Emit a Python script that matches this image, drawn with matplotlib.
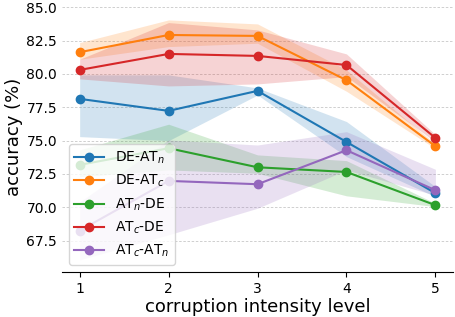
import matplotlib
matplotlib.use("Agg")
import matplotlib.pyplot as plt

levels = [1, 2, 3, 4, 5]

de_atn = [78.13, 77.23, 78.73, 74.90, 71.06]
de_atn_lo = [75.30, 75.00, 78.42, 73.80, 70.80]
de_atn_hi = [79.93, 79.93, 78.95, 76.43, 71.55]

de_atc = [81.63, 82.92, 82.85, 79.53, 74.58]
de_atc_lo = [81.10, 82.05, 82.30, 78.70, 74.40]
de_atc_hi = [82.35, 84.05, 83.75, 80.30, 74.75]

atn_de = [73.18, 74.43, 73.00, 72.65, 70.16]
atn_de_lo = [72.30, 72.80, 72.55, 70.86, 70.05]
atn_de_hi = [74.30, 76.23, 73.93, 73.50, 70.30]

atc_de = [80.30, 81.50, 81.35, 80.67, 75.20]
atc_de_lo = [79.63, 79.10, 79.25, 79.80, 74.90]
atc_de_hi = [81.10, 83.85, 83.30, 81.50, 75.45]

atc_atn = [68.25, 71.98, 71.73, 74.28, 71.28]
atc_atn_lo = [66.06, 67.94, 69.93, 72.80, 70.90]
atc_atn_hi = [70.40, 75.05, 74.67, 75.67, 72.85]

series = [
    ("DE-AT$_n$", de_atn, de_atn_lo, de_atn_hi, "tab:blue"),
    ("DE-AT$_c$", de_atc, de_atc_lo, de_atc_hi, "tab:orange"),
    ("AT$_n$-DE", atn_de, atn_de_lo, atn_de_hi, "tab:green"),
    ("AT$_c$-DE", atc_de, atc_de_lo, atc_de_hi, "tab:red"),
    ("AT$_c$-AT$_n$", atc_atn, atc_atn_lo, atc_atn_hi, "tab:purple"),
]

fig = plt.figure(figsize=(4.55, 3.17), dpi=100)
ax = fig.add_axes([0.136, 0.142, 0.86, 0.852])

for label, mean, lo, hi, color in series:
    ax.fill_between(levels, lo, hi, color=color, alpha=0.2, linewidth=0)
    ax.plot(levels, mean, color=color, marker="o", markersize=6,
            linewidth=1.5, label=label)

ax.set_xlim(0.8, 5.2)
ax.set_ylim(65.15, 85.4)
ax.set_xticks(levels)
ax.set_yticks([67.5, 70.0, 72.5, 75.0, 77.5, 80.0, 82.5, 85.0])
ax.yaxis.grid(True, linestyle=(0, (3, 2)), color="#c8c8c8", linewidth=0.6)
ax.set_axisbelow(True)
for s in ["top", "right", "left"]:
    ax.spines[s].set_visible(False)
ax.tick_params(axis="y", length=0, labelsize=10)
ax.tick_params(axis="x", labelsize=10)

ax.set_xlabel("corruption intensity level", fontsize=13, labelpad=2)
ax.set_ylabel("accuracy (%)", fontsize=13, labelpad=2)
ax.legend(loc="lower left", fontsize=10, borderaxespad=0.5, handlelength=2.1)

fig.savefig("out.png", dpi=100)
